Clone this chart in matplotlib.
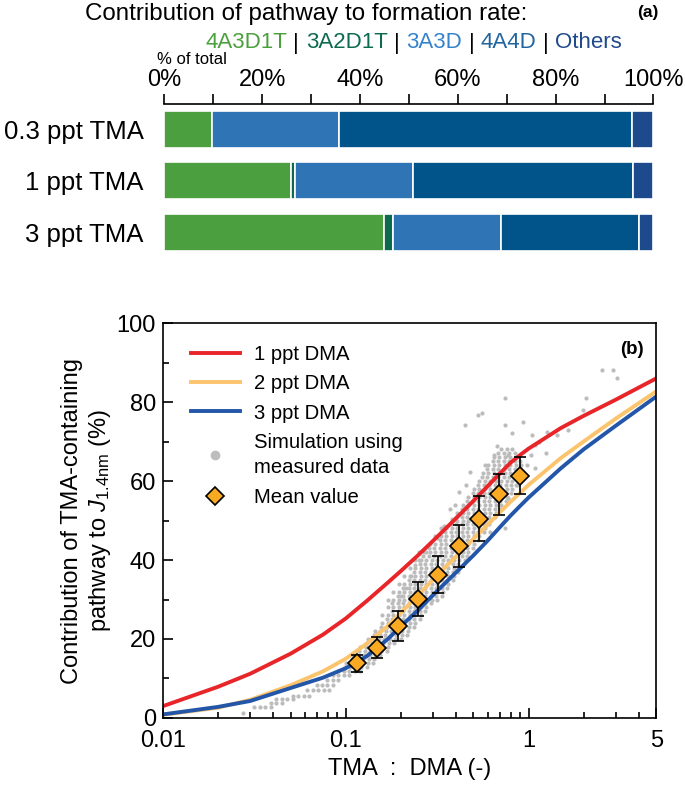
import numpy as np
import matplotlib.pyplot as plt
from matplotlib.lines import Line2D
from matplotlib.ticker import FixedLocator, NullFormatter

plt.rcParams['font.family'] = ['Liberation Sans', 'DejaVu Sans']
plt.rcParams['mathtext.fontset'] = 'custom'
plt.rcParams['mathtext.rm'] = 'Liberation Sans'
plt.rcParams['mathtext.it'] = 'Liberation Sans:italic'

# ---- panel (a) data: share of each pathway (% of total)
cases = ['0.3 ppt TMA', '1 ppt TMA', '3 ppt TMA']
pathways = ['4A3D1T', '3A2D1T', '3A3D', '4A4D', 'Others']
pct_4A3D1T = [9.8, 25.9, 45.0]
pct_3A2D1T = [0.0, 0.8, 1.8]
pct_3A3D = [26.0, 24.2, 22.1]
pct_4A4D = [59.9, 44.9, 28.1]
pct_others = [4.3, 4.2, 3.0]
bar_colors = ['#4c9f3e', '#0d6a4e', '#2f75b6', '#00548a', '#1c4a8c']
text_colors = ['#4c9f3e', '#0d6a4e', '#3583cc', '#22649f', '#1f4a8c']

# ---- panel (b) data
ratio = [0.01, 0.02, 0.03, 0.05, 0.075, 0.1, 0.13, 0.17, 0.2, 0.25, 0.32,
         0.4, 0.5, 0.6, 0.7, 0.8, 0.9, 1.0, 1.5, 2.0, 3.0, 5.0]
dma_1ppt = [3.0, 7.9, 11.2, 16.3, 21.1, 25.2, 29.6, 34.3, 37.2, 41.3, 46.1,
            50.5, 55.0, 58.8, 62.0, 64.7, 66.6, 68.2, 73.4, 76.5, 80.6, 86.0]
dma_2ppt = [0.8, 2.6, 4.6, 8.3, 11.8, 15.0, 18.8, 23.3, 26.6, 31.2, 36.4,
            40.8, 45.4, 49.0, 52.2, 54.8, 57.0, 59.0, 65.8, 70.0, 75.8, 82.7]
dma_3ppt = [0.9, 2.8, 4.3, 7.6, 10.2, 12.6, 15.6, 20.0, 23.2, 27.4, 32.4,
            36.8, 41.2, 45.0, 48.4, 51.3, 53.7, 55.8, 63.2, 68.0, 74.0, 81.4]

mean_ratio = [0.115, 0.148, 0.192, 0.249, 0.320, 0.415, 0.535, 0.692, 0.894]
mean_val = [13.8, 17.8, 23.3, 30.1, 36.3, 43.5, 50.5, 56.6, 61.4]
mean_err = [2.1, 2.7, 3.8, 4.3, 4.7, 5.3, 5.6, 5.3, 4.7]

# simulated points, stored row by row: y value and log10(TMA:DMA) positions
sim_row_y = [1.3, 2.8, 3.8, 4.8, 5.6, 7.1, 8.4, 9.6, 10.9,
             12, 13, 14, 15, 16, 17, 18, 19, 20, 21, 22, 23, 24, 25, 26, 27,
             28, 29, 30, 31, 32, 33, 34, 35, 36, 37, 38, 39, 40, 41, 42, 43,
             44, 45, 46, 47, 48, 49, 50, 51, 52, 53, 54, 55, 56, 57, 58, 59,
             60, 61, 62, 63, 64, 65, 66, 67, 68]
sim_row_logx = [
    [-1.56],
    [-1.50, -1.47, -1.44, -1.41],
    [-1.41, -1.38, -1.35],
    [-1.38, -1.35, -1.32, -1.29],
    [-1.29, -1.26, -1.23, -1.20],
    [-1.21, -1.18, -1.15, -1.12, -1.09],
    [-1.16, -1.13, -1.10, -1.07],
    [-1.10, -1.07, -1.04],
    [-1.07, -1.04, -1.01, -0.98],
    [-1.04, -1.01, -0.98, -0.95, -0.92],
    [-1.005, -0.975, -0.945, -0.915, -0.885],
    [-1.00, -0.97, -0.94, -0.91, -0.88, -0.85],
    [-0.965, -0.935, -0.905, -0.875, -0.845],
    [-0.96, -0.93, -0.90, -0.87, -0.84, -0.81],
    [-0.925, -0.895, -0.865, -0.835, -0.805, -0.775],
    [-0.92, -0.89, -0.86, -0.83, -0.80, -0.77],
    [-0.885, -0.855, -0.825, -0.795, -0.765, -0.735],
    [-0.88, -0.85, -0.82, -0.79, -0.76, -0.73, -0.70],
    [-0.845, -0.815, -0.785, -0.755, -0.725, -0.695, -0.665],
    [-0.84, -0.81, -0.78, -0.75, -0.72, -0.69, -0.66],
    [-0.805, -0.775, -0.745, -0.715, -0.685, -0.655, -0.625],
    [-0.80, -0.77, -0.74, -0.71, -0.68, -0.65, -0.62],
    [-0.775, -0.745, -0.715, -0.685, -0.655, -0.625, -0.595],
    [-0.80, -0.77, -0.74, -0.71, -0.68, -0.65, -0.62, -0.59],
    [-0.745, -0.715, -0.685, -0.655, -0.625, -0.595, -0.565],
    [-0.77, -0.74, -0.71, -0.68, -0.65, -0.62, -0.59, -0.56],
    [-0.745, -0.715, -0.685, -0.655, -0.625, -0.595, -0.565, -0.535],
    [-0.77, -0.74, -0.71, -0.68, -0.65, -0.62, -0.59, -0.56, -0.53, -0.50],
    [-0.715, -0.685, -0.655, -0.625, -0.595, -0.565, -0.535, -0.505, -0.475],
    [-0.74, -0.71, -0.68, -0.65, -0.62, -0.59, -0.56, -0.53, -0.50, -0.47],
    [-0.685, -0.655, -0.625, -0.595, -0.565, -0.535, -0.505, -0.475, -0.445],
    [-0.71, -0.68, -0.65, -0.62, -0.59, -0.56, -0.53, -0.50, -0.47, -0.44],
    [-0.655, -0.625, -0.595, -0.565, -0.535, -0.505, -0.475, -0.445, -0.415],
    [-0.68, -0.65, -0.62, -0.59, -0.56, -0.53, -0.50, -0.47, -0.44, -0.41],
    [-0.625, -0.595, -0.565, -0.535, -0.505, -0.475, -0.445, -0.415, -0.385],
    [-0.65, -0.62, -0.59, -0.56, -0.53, -0.50, -0.47, -0.44, -0.41, -0.38],
    [-0.595, -0.565, -0.535, -0.505, -0.475, -0.445, -0.415, -0.385, -0.355],
    [-0.62, -0.59, -0.56, -0.53, -0.50, -0.47, -0.44, -0.41, -0.38, -0.35],
    [-0.575, -0.545, -0.515, -0.485, -0.455, -0.425, -0.395, -0.365, -0.335],
    [-0.60, -0.57, -0.54, -0.51, -0.48, -0.45, -0.42, -0.39, -0.36, -0.33],
    [-0.545, -0.515, -0.485, -0.455, -0.425, -0.395, -0.365, -0.335, -0.305],
    [-0.54, -0.51, -0.48, -0.45, -0.42, -0.39, -0.36, -0.33, -0.30],
    [-0.485, -0.455, -0.425, -0.395, -0.365, -0.335, -0.305, -0.275],
    [-0.51, -0.48, -0.45, -0.42, -0.39, -0.36, -0.33, -0.30, -0.27],
    [-0.455, -0.425, -0.395, -0.365, -0.335, -0.305, -0.275, -0.245],
    [-0.48, -0.45, -0.42, -0.39, -0.36, -0.33, -0.30, -0.27, -0.24],
    [-0.425, -0.395, -0.365, -0.335, -0.305, -0.275, -0.245, -0.215],
    [-0.42, -0.39, -0.36, -0.33, -0.30, -0.27, -0.24, -0.21],
    [-0.395, -0.365, -0.335, -0.305, -0.275, -0.245, -0.215, -0.185],
    [-0.39, -0.36, -0.33, -0.30, -0.27, -0.24, -0.21, -0.18],
    [-0.365, -0.335, -0.305, -0.275, -0.245, -0.215, -0.185, -0.155],
    [-0.36, -0.33, -0.30, -0.27, -0.24, -0.21, -0.18, -0.15],
    [-0.335, -0.305, -0.275, -0.245, -0.215, -0.185, -0.155, -0.125],
    [-0.33, -0.30, -0.27, -0.24, -0.21, -0.18, -0.15, -0.12],
    [-0.305, -0.275, -0.245, -0.215, -0.185, -0.155, -0.125, -0.095],
    [-0.30, -0.27, -0.24, -0.21, -0.18, -0.15, -0.12, -0.09],
    [-0.275, -0.245, -0.215, -0.185, -0.155, -0.125, -0.095, -0.065],
    [-0.27, -0.24, -0.21, -0.18, -0.15, -0.12, -0.09, -0.06],
    [-0.255, -0.225, -0.195, -0.165, -0.135, -0.105, -0.075, -0.045],
    [-0.25, -0.22, -0.19, -0.16, -0.13, -0.10, -0.07, -0.04],
    [-0.225, -0.195, -0.165, -0.135, -0.105, -0.075, -0.045],
    [-0.22, -0.19, -0.16, -0.13, -0.10, -0.07, -0.04],
    [-0.195, -0.165, -0.135, -0.105, -0.075, -0.045],
    [-0.19, -0.16, -0.13, -0.10, -0.07],
    [-0.165, -0.135, -0.105, -0.075],
    [-0.15, -0.12, -0.09],
]
sim_extra_logx = [0.402, 0.464, 0.485, 0.316, -0.131, -0.347, -0.275, -0.255,
                  -0.131, -0.029, -0.09, 0.02, 0.094, 0.156, 0.218, 0.30,
                  0.033, 0.012, -0.008, 0.033, -0.429, -0.419, -0.50, -0.56,
                  -0.62, -0.645, -0.11, -0.17, -0.19, -0.24, -0.32, -0.34,
                  -0.38, -0.21, -0.13, -0.11, -0.07, -0.03, -0.67, -0.70,
                  -0.60, -0.46, -0.40, 0.06, 0.10]
sim_extra_y = [88.2, 88.2, 86.0, 81.0, 81.0, 74.2, 76.8, 77.2,
               74.2, 75.0, 72.1, 71.7, 67.0, 71.7, 73.0, 78.0,
               69.1, 66.6, 64.0, 63.2, 53.0, 50.5, 45.5, 42.0,
               38.7, 36.0, 66.6, 69.0, 66.6, 64.0, 62.4, 59.0,
               57.3, 47.2, 48.0, 55.6, 59.0, 62.4, 33.0, 31.0,
               40.0, 48.5, 54.0, 70.0, 72.5]

fig = plt.figure(figsize=(6.85, 7.85), dpi=100)

# ================= panel (a)
ax1 = fig.add_axes([0.240, 0.671, 0.714, 0.197])
ypos = np.arange(len(cases))
left = np.zeros(len(cases))
for vals, col in zip([pct_4A3D1T, pct_3A2D1T, pct_3A3D, pct_4A4D, pct_others], bar_colors):
    ax1.barh(ypos, vals, left=left, height=0.72, color=col, edgecolor='white', linewidth=1.2)
    left += np.array(vals)
ax1.set_xlim(0, 100)
ax1.set_ylim(2.5, -0.5)
ax1.xaxis.tick_top()
ax1.set_xticks(range(0, 101, 20))
ax1.set_xticklabels([f'{v}%' for v in range(0, 101, 20)])
ax1.xaxis.set_minor_locator(FixedLocator(range(10, 100, 20)))
ax1.tick_params(axis='x', which='both', direction='out', length=7, width=1.2,
                labelsize=17, pad=2)
ax1.set_yticks(ypos)
ax1.set_yticklabels(cases)
ax1.tick_params(axis='y', length=0, labelsize=18.5, pad=15)
for s in ['left', 'right', 'bottom']:
    ax1.spines[s].set_visible(False)
ax1.spines['top'].set_linewidth(1.2)

fig.text(85 / 685, 1 - 14 / 785, 'Contribution of pathway to formation rate:',
         fontsize=17.4, ha='left', va='center')
fig.text(0.962, 1 - 12 / 785, '(a)', fontsize=12.5, fontweight='bold', ha='right', va='center')
fig.text(157 / 685, 1 - 60 / 785, '% of total', fontsize=12, ha='left', va='center')

# coloured pathway names separated by bars
renderer = fig.canvas.get_renderer()
xpix = 205
ytext = 1 - 43 / 785
for i, (name, col) in enumerate(zip(pathways, text_colors)):
    t = fig.text(xpix / 685, ytext, name, color=col, fontsize=16, ha='left', va='center')
    xpix += t.get_window_extent(renderer).width + 6.5
    if i < len(pathways) - 1:
        t = fig.text(xpix / 685, ytext, '|', color='black', fontsize=16, ha='left', va='center')
        xpix += t.get_window_extent(renderer).width + 6.5

# ================= panel (b)
ax2 = fig.add_axes([0.238, 0.0854, 0.720, 0.503])
ax2.set_xscale('log')

sim_x, sim_y = [], []
for yv, row in zip(sim_row_y, sim_row_logx):
    sim_x += [10 ** v for v in row]
    sim_y += [yv] * len(row)
sim_x += [10 ** v for v in sim_extra_logx]
sim_y += sim_extra_y
ax2.scatter(sim_x, sim_y, s=9, color='#bcbcbc', linewidths=0, zorder=1)

ax2.plot(ratio, dma_1ppt, color='#e8262a', lw=2.8, zorder=2)
ax2.plot(ratio, dma_2ppt, color='#fcc46c', lw=2.8, zorder=2)
ax2.plot(ratio, dma_3ppt, color='#2356a8', lw=2.8, zorder=2)
ax2.errorbar(mean_ratio, mean_val, yerr=mean_err, fmt='D', ms=9, mfc='#f9aa22',
             mec='black', mew=1.2, ecolor='black', elinewidth=1.2, capsize=4,
             capthick=1.2, zorder=3)

ax2.set_xlim(0.01, 5)
ax2.set_ylim(0, 100)
ax2.xaxis.set_major_locator(FixedLocator([0.01, 0.1, 1, 5]))
ax2.set_xticklabels(['0.01', '0.1', '1', '5'])
ax2.xaxis.set_minor_locator(FixedLocator([k * 10.0 ** e for e in (-2, -1, 0)
                                          for k in range(2, 10) if k * 10.0 ** e < 5]))
ax2.xaxis.set_minor_formatter(NullFormatter())
ax2.set_yticks(range(0, 101, 20))
ax2.yaxis.set_minor_locator(FixedLocator(range(10, 100, 20)))
ax2.tick_params(which='major', direction='in', length=7, width=1.2, labelsize=17, pad=5)
ax2.tick_params(axis='x', which='major', pad=9)
ax2.tick_params(which='minor', direction='in', length=4.5, width=1.2)
for s in ax2.spines.values():
    s.set_linewidth(1.2)

ax2.set_xlabel('TMA  :  DMA (-)', fontsize=17, labelpad=4)
ax2.set_ylabel('Contribution of TMA-containing\npathway to $\\mathit{J}_{\\mathrm{1.4nm}}$ (%)',
               fontsize=17, labelpad=3)
ax2.text(0.975, 0.955, '(b)', transform=ax2.transAxes, fontsize=13.5, fontweight='bold',
         ha='right', va='top')

handles = [Line2D([], [], color='#e8262a', lw=2.8),
           Line2D([], [], color='#fcc46c', lw=2.8),
           Line2D([], [], color='#2356a8', lw=2.8),
           Line2D([], [], ls='none', marker='o', ms=6, color='#bdbdbd'),
           Line2D([], [], ls='none', marker='D', ms=9, mfc='#f9aa22', mec='black', mew=1.2)]
labels = ['1 ppt DMA', '2 ppt DMA', '3 ppt DMA', 'Simulation using\nmeasured data', 'Mean value']
leg = ax2.legend(handles, labels, loc='upper left', bbox_to_anchor=(0.02, 0.99), frameon=False,
                 fontsize=14.6, handlelength=2.4, handletextpad=0.7, labelspacing=0.5)
for t in leg.get_texts():
    t.set_linespacing(1.45)

fig.savefig('out.png', dpi=100)
